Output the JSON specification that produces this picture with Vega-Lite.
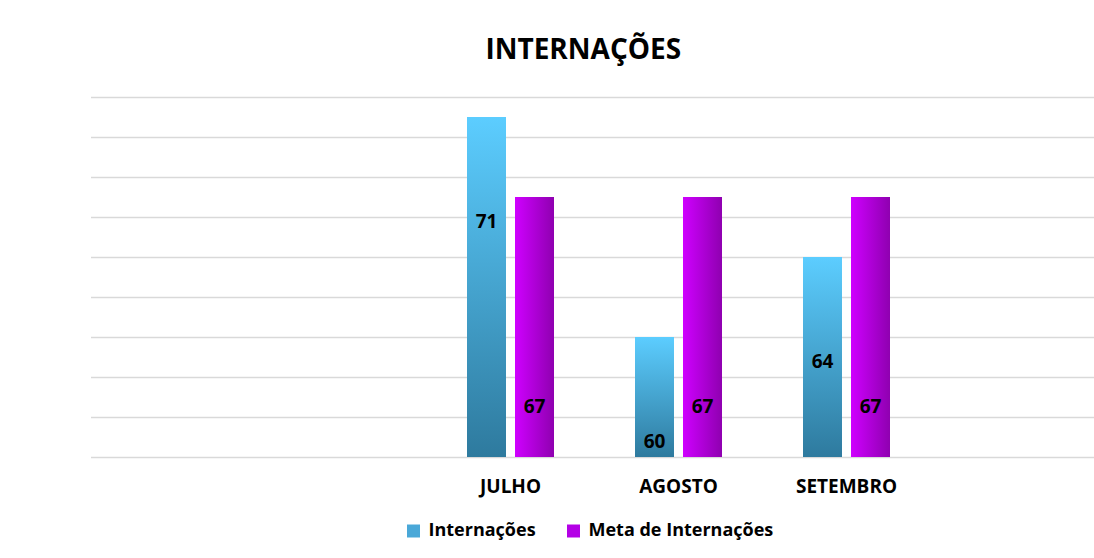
{
  "$schema": "https://vega.github.io/schema/vega-lite/v6.json",
  "width": 1003.5,
  "height": 360,
  "autosize": {"type": "none"},
  "padding": {"left": 90.5, "top": 97, "right": 0, "bottom": 101},
  "background": "white",
  "title": {
    "text": "INTERNAÇÕES",
    "font": "Open Sans",
    "fontSize": 28,
    "fontWeight": "bold",
    "color": "#000000",
    "anchor": "middle",
    "baseline": "alphabetic",
    "dx": -9,
    "offset": 10
  },
  "config": {
    "view": {"stroke": null},
    "axis": {"labelFont": "Open Sans"},
    "legend": {"labelFont": "Open Sans"}
  },
  "data": {
    "values": [
      {"mes": "JULHO", "serie": "Internações", "valor": 71},
      {"mes": "JULHO", "serie": "Meta de Internações", "valor": 67},
      {"mes": "AGOSTO", "serie": "Internações", "valor": 60},
      {"mes": "AGOSTO", "serie": "Meta de Internações", "valor": 67},
      {"mes": "SETEMBRO", "serie": "Internações", "valor": 64},
      {"mes": "SETEMBRO", "serie": "Meta de Internações", "valor": 67}
    ]
  },
  "encoding": {
    "x": {
      "field": "mes",
      "type": "nominal",
      "sort": null,
      "scale": {
        "domain": ["", " ", "JULHO", "AGOSTO", "SETEMBRO", "  "],
        "range": [0, 1008],
        "paddingInner": 0,
        "paddingOuter": 0
      },
      "axis": {
        "title": null,
        "domain": false,
        "ticks": false,
        "tickSize": 0,
        "grid": false,
        "labelAngle": 0,
        "labelFontSize": 19,
        "labelFontWeight": "bold",
        "labelColor": "#000000",
        "labelBaseline": "alphabetic",
        "labelPadding": 35
      }
    },
    "xOffset": {
      "field": "serie",
      "type": "nominal",
      "scale": {"domain": ["Internações", "Meta de Internações"], "paddingInner": 0.1875, "paddingOuter": 0.84375}
    },
    "y": {
      "field": "valor",
      "type": "quantitative",
      "scale": {"domain": [54, 72], "zero": false, "nice": false},
      "axis": {
        "title": null,
        "labels": false,
        "domain": false,
        "ticks": false,
        "values": [54, 56, 58, 60, 62, 64, 66, 68, 70, 72],
        "grid": true,
        "gridColor": "#d9d9d9",
        "gridWidth": 1.5
      }
    }
  },
  "layer": [
    {
      "mark": {"type": "bar"},
      "encoding": {
        "y2": {"datum": 54},
        "color": {
          "field": "serie",
          "type": "nominal",
          "scale": {
            "domain": ["Internações", "Meta de Internações"],
            "range": ["#4aa8d8", "#b400e6"]
          },
          "legend": {
            "title": null,
            "orient": "none",
            "direction": "horizontal",
            "legendX": 314,
            "legendY": 425,
            "symbolType": "square",
            "symbolSize": 169,
            "symbolStrokeWidth": 0,
            "symbolOpacity": 1,
            "labelFontSize": 18,
            "labelFontWeight": "bold",
            "labelColor": "#000000",
            "labelOffset": 6,
            "labelLimit": 400,
            "columnPadding": 28,
            "padding": 0
          }
        }
      }
    },
    {
      "transform": [{"filter": "datum.serie === 'Internações'"}],
      "mark": {
        "type": "bar",
        "color": {"gradient": "linear", "x1": 0, "y1": 0, "x2": 0, "y2": 1,
                  "stops": [{"offset": 0, "color": "#5ccdff"}, {"offset": 1, "color": "#2e7a9e"}]}
      },
      "encoding": {"y2": {"datum": 54}}
    },
    {
      "transform": [{"filter": "datum.serie === 'Meta de Internações'"}],
      "mark": {
        "type": "bar",
        "color": {"gradient": "linear", "x1": 0, "y1": 0, "x2": 1, "y2": 0,
                  "stops": [{"offset": 0, "color": "#cf00ff"}, {"offset": 1, "color": "#8f00b0"}]}
      },
      "encoding": {"y2": {"datum": 54}}
    },
    {
      "transform": [{"filter": "datum.serie === 'Internações'"}],
      "mark": {"type": "text", "font": "Open Sans", "fontSize": 19, "fontWeight": "bold", "color": "#000000", "baseline": "middle", "dy": 105},
      "encoding": {"text": {"field": "valor", "type": "quantitative"}}
    },
    {
      "transform": [{"filter": "datum.serie === 'Meta de Internações'"}],
      "mark": {"type": "text", "font": "Open Sans", "fontSize": 19, "fontWeight": "bold", "color": "#000000", "baseline": "middle", "dy": 210},
      "encoding": {"text": {"field": "valor", "type": "quantitative"}}
    }
  ]
}
